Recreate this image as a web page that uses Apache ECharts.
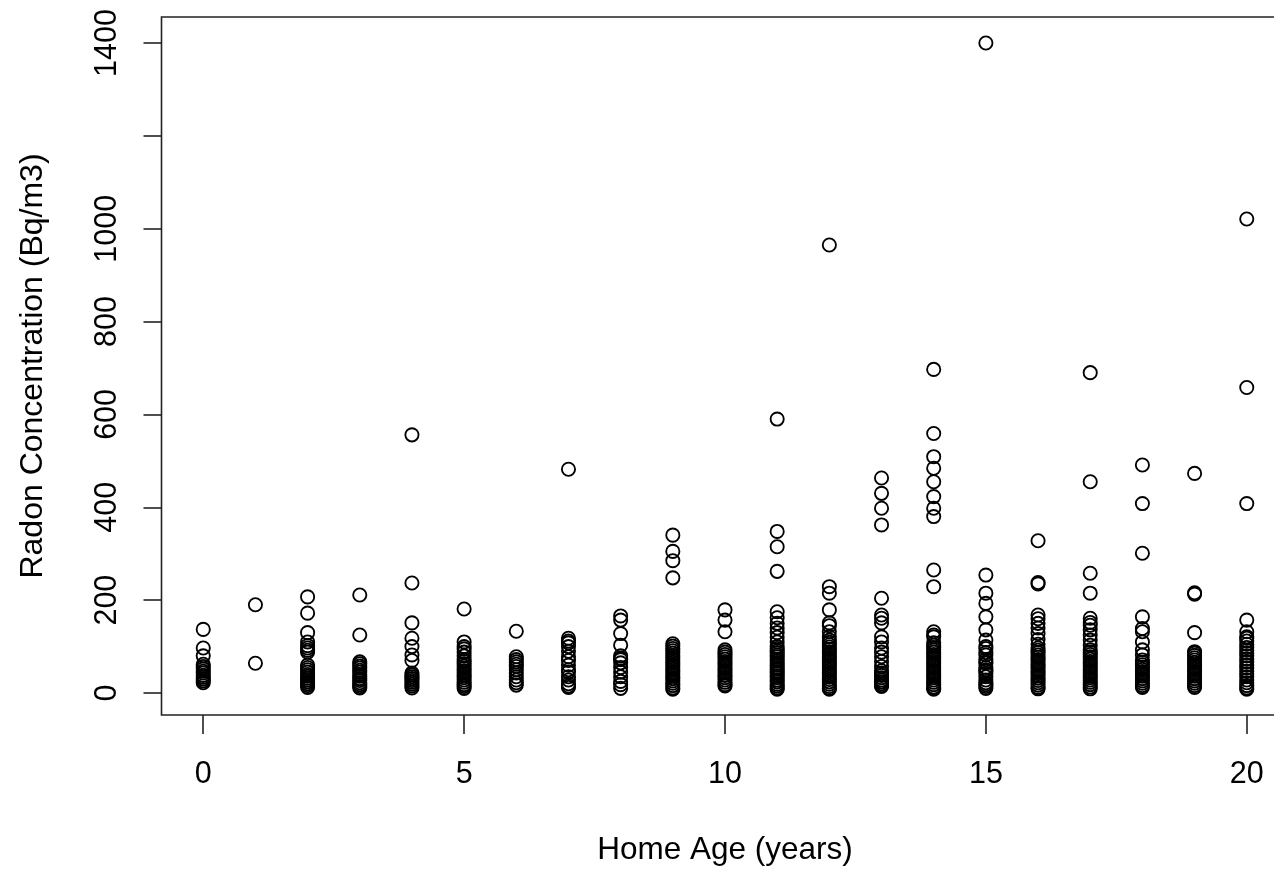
<!DOCTYPE html>
<html>
<head>
<meta charset="utf-8">
<script src="https://cdn.jsdelivr.net/npm/echarts@6/dist/echarts.min.js"></script>
<style>
html,body{margin:0;padding:0;background:#fff;}
#chart{width:1274px;height:869px;}
</style>
</head>
<body>
<div id="chart"></div>
<script>
// Home age (years) and radon concentration (Bq/m3) readings per age
const age0  = [137, 97, 80, 62, 57, 52, 47, 43, 38, 34, 30, 26, 22];
const age1  = [190, 64];
const age2  = [207, 172, 130, 110, 102, 97, 92, 88, 60, 55, 50, 45, 40, 36, 32, 28, 24, 20, 16, 12];
const age3  = [211, 125, 67, 63, 58, 54, 49, 45, 40, 36, 31, 27, 22, 18, 14, 11];
const age4  = [556, 237, 151, 118, 100, 82, 70, 43, 39, 35, 31, 27, 23, 19, 15, 11];
const age5  = [181, 110, 100, 95, 88, 80, 72, 68, 63, 58, 53, 48, 43, 38, 33, 28, 23, 18, 14, 10];
const age6  = [133, 78, 72, 67, 62, 57, 50, 43, 35, 28, 22, 17];
const age7  = [482, 118, 112, 108, 100, 90, 78, 70, 60, 50, 45, 35, 28, 20, 15, 12];
const age8  = [166, 157, 128, 103, 80, 75, 72, 65, 55, 45, 35, 25, 18, 10];
const age9  = [340, 305, 285, 248, 106, 101, 96, 91, 86, 81, 76, 71, 66, 61, 56, 51, 46, 41, 36, 31, 26, 21, 16, 11, 8];
const age10 = [179, 157, 132, 93, 88, 83, 78, 73, 68, 63, 58, 53, 48, 43, 38, 33, 28, 23, 18, 15];
const age11 = [590, 348, 315, 262, 175, 162, 150, 140, 130, 120, 110, 100, 96, 91, 87, 82, 78, 73, 69, 64, 60, 55, 51, 46, 42, 37, 33, 28, 24, 19, 15, 11, 8];
const age12 = [965, 229, 215, 179, 151, 145, 132, 121, 114, 109, 104, 99, 94, 89, 84, 79, 74, 69, 64, 59, 54, 49, 44, 39, 34, 29, 24, 19, 14, 10, 8];
const age13 = [463, 430, 398, 362, 204, 168, 161, 151, 121, 110, 97, 88, 78, 68, 57, 48, 43, 38, 33, 28, 24, 20, 16, 14];
const age14 = [697, 559, 509, 484, 455, 423, 398, 380, 265, 229, 132, 125, 121, 108, 103, 98, 93, 88, 83, 78, 73, 68, 63, 58, 53, 48, 43, 38, 33, 28, 23, 18, 13, 10, 8];
const age15 = [1400, 254, 215, 193, 164, 136, 114, 100, 96, 87, 82, 72, 67, 64, 55, 50, 48, 42, 35, 28, 22, 18, 14, 10];
const age16 = [328, 238, 235, 168, 160, 150, 140, 128, 115, 105, 97, 92, 87, 82, 77, 72, 67, 62, 57, 52, 47, 42, 37, 32, 27, 22, 17, 12, 9];
const age17 = [690, 455, 258, 215, 161, 152, 146, 136, 125, 114, 103, 93, 88, 83, 78, 73, 68, 63, 58, 53, 48, 43, 38, 33, 28, 23, 18, 13, 9];
const age18 = [491, 408, 301, 164, 139, 132, 110, 93, 82, 71, 66, 61, 56, 51, 46, 41, 36, 31, 26, 21, 16, 12];
const age19 = [473, 216, 213, 130, 89, 86, 81, 76, 71, 66, 61, 56, 51, 46, 41, 36, 31, 26, 21, 16, 12];
const age20 = [1021, 658, 408, 157, 132, 121, 118, 112, 105, 98, 92, 86, 80, 73, 67, 60, 54, 47, 41, 35, 28, 22, 16, 11, 8];

const ageGroups = [age0, age1, age2, age3, age4, age5, age6, age7, age8, age9, age10,
                   age11, age12, age13, age14, age15, age16, age17, age18, age19, age20];
const xTicks = [0, 5, 10, 15, 20];
const yTicks = [0, 200, 400, 600, 800, 1000, 1200, 1400];
const yLabels = [0, 200, 400, 600, 800, 1000, 1400];

const points = [];
ageGroups.forEach((vals, age) => vals.forEach(v => points.push([age, v])));

const font = "'Liberation Sans', Arial, sans-serif";
const chart = echarts.init(document.getElementById('chart'), null, {renderer: 'canvas'});
chart.setOption({
  animation: false,
  backgroundColor: '#fff',
  grid: {
    left: 161.5, top: 17, right: -14.5, bottom: 154,
    show: true, borderColor: '#222', borderWidth: 1.6, backgroundColor: 'transparent',
    containLabel: false, outerBoundsMode: 'none'
  },
  xAxis: {
    type: 'value', min: -0.8, max: 20.8,
    name: 'Home Age (years)', nameLocation: 'middle', nameGap: 119,
    nameTextStyle: {fontFamily: font, fontSize: 31.5, color: '#000'},
    axisLine: {show: false, onZero: false},
    axisTick: {show: true, customValues: xTicks, length: 19, lineStyle: {color: '#222', width: 1.6}},
    axisLabel: {customValues: xTicks, fontFamily: font, fontSize: 30.5, color: '#000', margin: 44,
                formatter: v => String(v)},
    splitLine: {show: false}
  },
  yAxis: {
    type: 'value', min: -47.4, max: 1456,
    name: 'Radon Concentration (Bq/m3)', nameLocation: 'middle', nameGap: 112, nameRotate: 90,
    nameTextStyle: {fontFamily: font, fontSize: 32, color: '#000'},
    axisLine: {show: false, onZero: false},
    axisTick: {show: true, customValues: yTicks, length: 18, lineStyle: {color: '#222', width: 1.6}},
    axisLabel: {customValues: yLabels, rotate: 90, fontFamily: font, fontSize: 30.5, color: '#000', margin: 38,
                formatter: v => String(v)},
    splitLine: {show: false}
  },
  series: [{
    type: 'scatter',
    data: points,
    symbol: 'circle',
    symbolSize: 13.2,
    itemStyle: {color: 'rgba(0,0,0,0)', borderColor: '#000', borderWidth: 1.85, opacity: 1},
    emphasis: {disabled: true}
  }]
});
</script>
</body>
</html>
